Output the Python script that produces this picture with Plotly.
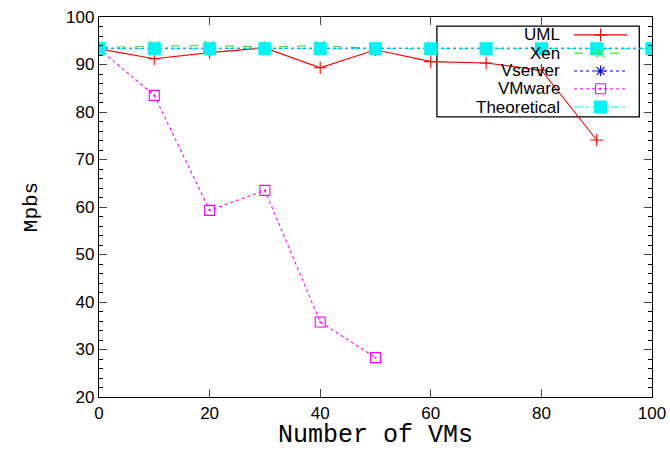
import plotly.graph_objects as go

# ---- data ----
uml_x = [0, 10, 20, 30, 40, 50, 60, 70, 80, 90]
uml_y = [93.3, 91.2, 92.5, 93.5, 89.3, 93.1, 90.6, 90.3, 88.8, 74.1]

xen_x = [0, 10, 20, 30, 40, 50]
xen_y = [93.6, 93.9, 94.0, 93.7, 94.0, 93.3]

vserver_x = [0, 10, 20, 30, 40, 50, 60, 70, 80, 90, 100]
vserver_y = [93.4, 93.4, 93.5, 93.4, 93.5, 93.4, 93.4, 93.4, 93.4, 93.4, 93.4]

vmware_x = [0, 10, 20, 30, 40, 50]
vmware_y = [93.3, 83.5, 59.3, 63.5, 35.8, 28.3]

theo_x = [0, 10, 20, 30, 40, 50, 60, 70, 80, 90, 100]
theo_y = [93.3] * 11

names = ["UML", "Xen", "Vserver", "VMware", "Theoretical"]
x_ticks = [0, 20, 40, 60, 80, 100]
y_ticks = [20, 30, 40, 50, 60, 70, 80, 90, 100]

styles = {
    "UML": dict(color="#ff0000", dash="solid", symbol="cross-thin-open", size=9, lw=1.1),
    "Xen": dict(color="#33ee33", dash="dash", symbol="x-thin-open", size=9, lw=1.1),
    "Vserver": dict(color="#0000ff", dash="dot", symbol="asterisk-open", size=9, lw=1.1),
    "VMware": dict(color="#ff00ff", dash="dot", symbol="square-open-dot", size=10, lw=1.1),
    "Theoretical": dict(color="#00f4f4", dash="dashdot", symbol="square", size=12, lw=1.1),
}
series = {
    "UML": (uml_x, uml_y),
    "Xen": (xen_x, xen_y),
    "Vserver": (vserver_x, vserver_y),
    "VMware": (vmware_x, vmware_y),
    "Theoretical": (theo_x, theo_y),
}

fig = go.Figure()
for n in names:
    s = styles[n]
    xs, ys = series[n]
    fig.add_trace(go.Scatter(
        x=xs, y=ys, mode="lines+markers", name=n, showlegend=False,
        line=dict(color=s["color"], dash=s["dash"], width=s["lw"]),
        marker=dict(symbol=s["symbol"], size=s["size"], color=s["color"],
                    line=dict(color=s["color"], width=1.1)),
    ))

# ---- custom gnuplot-style legend (text right-aligned, sample on the right) ----
row_y = [0.953, 0.905, 0.858, 0.811, 0.763]
txt_x, ln_x0, ln_x1, mk_x = 0.837, 0.859, 0.955, 0.907
shapes = [dict(type="rect", xref="paper", yref="paper", x0=0.611, x1=0.977,
               y0=0.737, y1=0.976, line=dict(color="black", width=1.3),
               fillcolor="rgba(0,0,0,0)", layer="below")]
annotations = []
for n, ry in zip(names, row_y):
    s = styles[n]
    annotations.append(dict(xref="paper", yref="paper", x=txt_x, y=ry, text=n,
                            showarrow=False, xanchor="right", yanchor="middle",
                            font=dict(family="Liberation Sans, Arial", size=17, color="black")))
    fig.add_trace(go.Scatter(
        x=[ln_x0, ln_x1], y=[ry, ry], xaxis="x2", yaxis="y2", mode="lines",
        showlegend=False, hoverinfo="skip",
        line=dict(color=s["color"], dash=s["dash"], width=s["lw"])))
    fig.add_trace(go.Scatter(
        x=[mk_x], y=[ry], xaxis="x2", yaxis="y2", mode="markers",
        showlegend=False, hoverinfo="skip",
        marker=dict(symbol=s["symbol"], size=s["size"], color=s["color"],
                    line=dict(color=s["color"], width=1.1))))

fig.update_layout(
    width=670, height=450,
    margin=dict(l=99, r=18, t=17, b=53),
    paper_bgcolor="white", plot_bgcolor="white",
    shapes=shapes, annotations=annotations,
    xaxis=dict(range=[0, 100], tickvals=x_ticks, ticks="inside", ticklen=8,
               showline=True, linecolor="black", linewidth=1.3, mirror="ticks",
               showgrid=False, zeroline=False, automargin=False,
               tickfont=dict(family="Liberation Sans, Arial", size=17, color="black"),
               title=dict(text="Number of VMs", standoff=8,
                          font=dict(family="Liberation Mono, Courier New", size=25, color="black"))),
    yaxis=dict(range=[20, 100], tickvals=y_ticks, ticks="inside", ticklen=8,
               showline=True, linecolor="black", linewidth=1.3, mirror="ticks",
               showgrid=False, zeroline=False, automargin=False,
               minor=dict(dtick=2, ticks="inside", ticklen=4, tickcolor="black", showgrid=False),
               tickfont=dict(family="Liberation Sans, Arial", size=17, color="black"),
               title=dict(text="Mpbs", standoff=22,
                          font=dict(family="Liberation Mono, Courier New", size=21, color="black"))),
    xaxis2=dict(range=[0, 1], overlaying="x", visible=False, domain=[0, 1]),
    yaxis2=dict(range=[0, 1], overlaying="y", visible=False),
)

fig.write_html("out.html")
